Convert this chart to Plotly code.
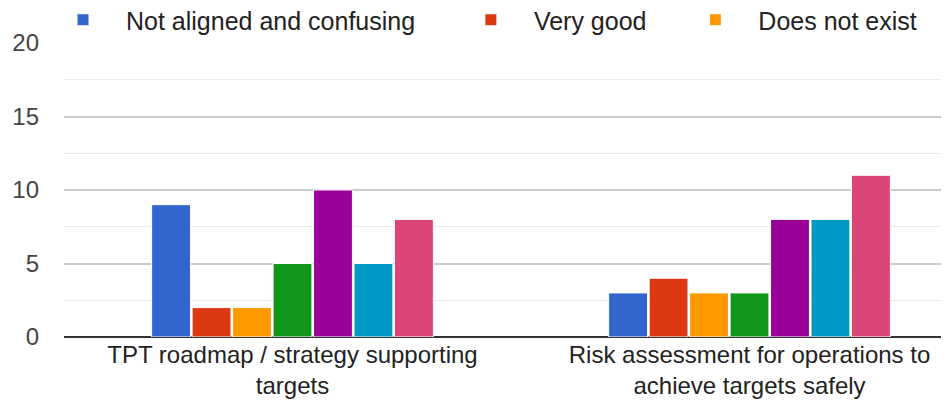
import plotly.graph_objects as go

categories = ["TPT roadmap / strategy supporting<br>targets",
              "Risk assessment for operations to<br>achieve targets safely"]
series_names = ["Not aligned and confusing", "Very good", "Does not exist",
                "Series 4", "Series 5", "Series 6", "Series 7"]
series_values = [
    [9, 3],
    [2, 4],
    [2, 3],
    [5, 3],
    [10, 8],
    [5, 8],
    [8, 11],
]
colors = ["#3366cc", "#dc3912", "#ff9900", "#109618", "#990099", "#0099c6", "#dd4477"]
show_in_legend = [True, True, True, False, False, False, False]
legend_pad = [4, 3, 0, 0, 0, 0, 0]

fig = go.Figure()
for name, vals, col, sl, pad in zip(series_names, series_values, colors,
                                     show_in_legend, legend_pad):
    fig.add_trace(go.Bar(x=categories, y=vals, name=name + "\u00a0" * pad,
                         marker_color=col,
                         marker_line_color="white", marker_line_width=1,
                         showlegend=sl))

W, H = 941, 397
FONT = "Liberation Sans, Arial, sans-serif"
fig.update_layout(
    width=W, height=H,
    margin=dict(l=56, r=0, t=35, b=68, autoexpand=False),
    paper_bgcolor="white", plot_bgcolor="white",
    barmode="group", bargap=0.38, bargroupgap=0.04,
    font=dict(family=FONT, size=25, color="#222"),
    legend=dict(orientation="h", xref="container", yref="container",
                x=32 / W, xanchor="left", y=1 - 12 / H, yanchor="middle",
                font=dict(size=25, color="#222"), itemwidth=76,
                bgcolor="rgba(0,0,0,0)"),
    xaxis=dict(range=[-0.5, 1.4365], showgrid=False, ticks="", automargin=False,
               ticklabelstandoff=1,
               tickfont=dict(size=24, color="#222")),
    yaxis=dict(range=[0, 20], dtick=5, showgrid=True, gridcolor="#cccccc",
               gridwidth=1.5, zeroline=True, zerolinecolor="#333333",
               zerolinewidth=1.5, ticks="", ticklabelstandoff=24, automargin=False,
               tickfont=dict(size=24, color="#444"),
               minor=dict(dtick=2.5, showgrid=True, gridcolor="#ebebeb", gridwidth=1)),
)

fig.write_html("out.html")
